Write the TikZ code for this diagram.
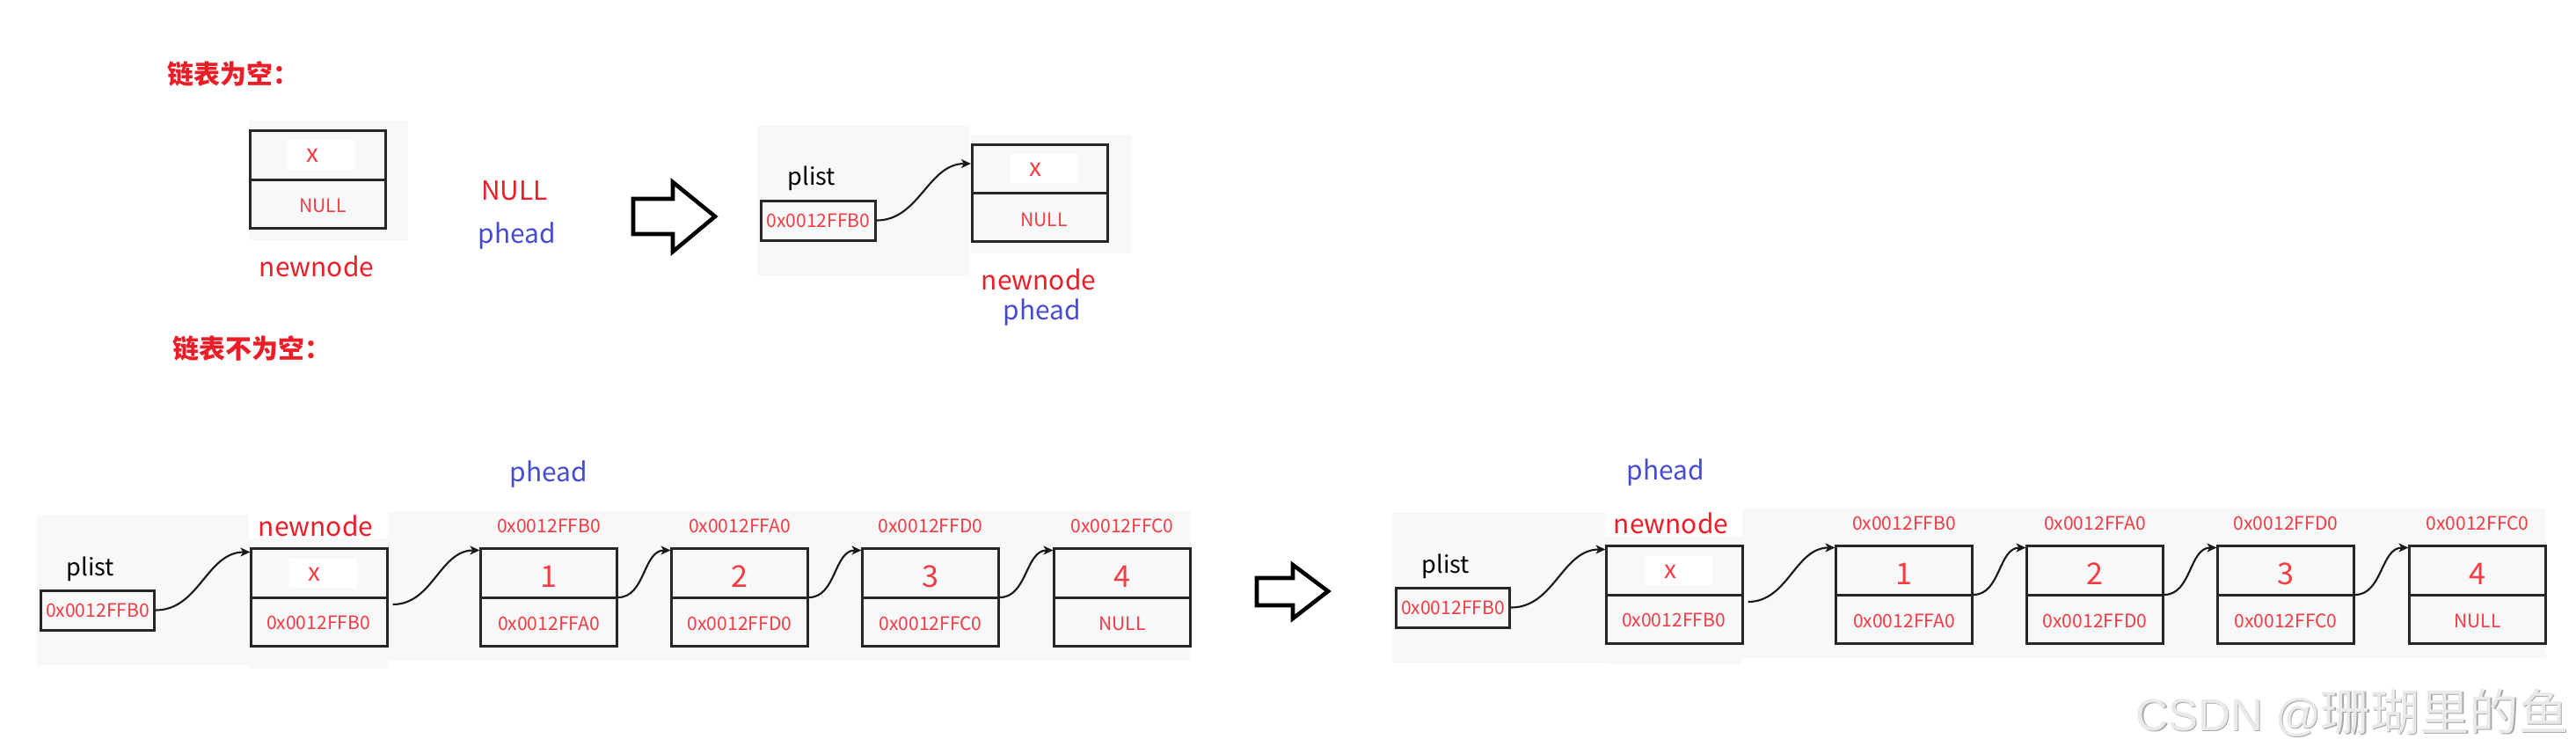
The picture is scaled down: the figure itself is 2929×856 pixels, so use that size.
\documentclass[tikz,border=0pt]{standalone}
\usepackage{fontspec}
\setmainfont{Noto Sans CJK SC}
\newfontfamily\wmlat{Liberation Sans}
\usetikzlibrary{arrows.meta}
\definecolor{lblred}{RGB}{235,30,40}
\definecolor{txtred}{RGB}{245,60,65}
\definecolor{pblue}{RGB}{70,75,210}
\definecolor{panel}{RGB}{247,248,250}
\definecolor{wmfill}{RGB}{234,234,234}
\definecolor{wmshadow}{RGB}{170,170,170}
\begin{document}
\begin{tikzpicture}[x=0.01cm,y=-0.01cm,
  title/.style={font=\fontsize{8.5}{10}\selectfont\bfseries, text=lblred, inner sep=0pt},
  lbl/.style={font=\fontsize{8.5}{10}\selectfont, text=lblred, inner sep=0pt},
  blbl/.style={font=\fontsize{8.5}{10}\selectfont, text=pblue, inner sep=0pt},
  plistlbl/.style={font=\fontsize{7.7}{9}\selectfont, text=black, inner sep=0pt},
  addr/.style={font=\fontsize{6}{7}\selectfont, text=txtred, inner sep=0pt},
  xval/.style={font=\fontsize{8}{9}\selectfont, text=txtred, inner sep=0pt},
  digit/.style={font=\fontsize{9.7}{11}\selectfont, text=txtred, inner sep=0pt},
  cell/.style={draw=black!85, line width=0.85pt, minimum width=1.54cm, minimum height=1.10cm, inner sep=0pt},
  cellline/.style={draw=black!85, line width=0.85pt},
  pbox/.style={draw=black!85, line width=0.85pt, minimum width=1.29cm, minimum height=0.45cm, inner sep=0pt,
    font=\fontsize{6}{7}\selectfont, text=txtred},
  conn/.style={draw=black!90, line width=0.6pt, -{Stealth[length=0.11cm,width=0.1cm,inset=0.03cm]}},
  bigarrow/.style={draw=black, line width=1.3pt, line join=miter, fill=white},
  wm/.style={font=\fontsize{16}{18}\selectfont, inner sep=0pt, anchor=east}
]
\fill[white] (0,0) rectangle (2929,856);
\useasboundingbox (0,0) rectangle (2929,856);

% ---------- background panels ----------
\fill[panel] (283,137) rectangle (464,273);
\fill[panel] (861,143) rectangle (1102,313);
\fill[panel] (1104,153) rectangle (1287,288);
\fill[panel] (42,585) rectangle (283,756);
\fill[panel] (283,612) rectangle (441,760);
\fill[panel] (441,581) rectangle (1354,751);
\fill[panel] (1583,583) rectangle (1825,753);
\fill[panel] (1825,610) rectangle (1981,755);
\fill[panel] (1981,578) rectangle (2895,748);

% ---------- titles ----------
\node[title, anchor=west] (t1) at (190,84) {链表为空：};
\node[title, anchor=west] (t2) at (196,396) {链表不为空：};

% ---------- empty list: before ----------
\node[cell] (T1) at (361.5,204) {};
\draw[cellline] (T1.west) -- (T1.east);
\fill[white] (327,159) rectangle (404,193);
\node[xval] (T1v) at (356,177) {x};
\node[addr] (T1p) at (367,234) {NULL};
\node[lbl] (T1l) at (360,303) {newnode};
\node[lbl] (nullA) at (585,217) {NULL};
\node[blbl] (pheadA) at (588,268) {phead};

\draw[bigarrow] (720,226) -- (765,226) -- (765,207) -- (813,246) -- (765,286) -- (765,266) -- (720,266) -- cycle;

% ---------- empty list: after ----------
\node[plistlbl] (TPl) at (923,203) {plist};
\node[pbox] (TP) at (930.5,250.5) {0x0012FFB0};
\node[cell] (T2) at (1182.5,219.5) {};
\draw[cellline] (T2.west) -- (T2.east);
\fill[white] (1149,175) rectangle (1225,208);
\node[xval] (T2v) at (1177,193) {x};
\node[addr] (T2p) at (1187,250) {NULL};
\node[lbl] (T2l) at (1181,318) {newnode};
\node[blbl] (pheadB) at (1185,355) {phead};
\draw[conn] (TP.east) to[out=0,in=180] ([yshift=-0.23cm]T2.north west);

% ---------- non-empty list: before and after ----------
\foreach \p/\dx/\dy in {L/0/0, R/1541/-3} {
  \begin{scope}[shift={(\dx,\dy)}]
    \node[plistlbl] (\p pll) at (103,647) {plist};
    \node[pbox] (\p pl) at (111,693.5) {0x0012FFB0};
    \node[lbl] (\p nnl) at (359,598) {newnode};
    \node[cell] (\p n0) at (363,679) {};
    \draw[cellline] (\p n0.west) -- (\p n0.east);
    \fill[white] (329,635) rectangle (406,668);
    \node[xval] (\p n0v) at (358,653) {x};
    \node[addr] (\p n0p) at (362,708) {0x0012FFB0};
    \foreach \i/\cx/\val/\adr/\nxt in {1/624/1/0x0012FFB0/0x0012FFA0,
        2/841/2/0x0012FFA0/0x0012FFD0, 3/1058/3/0x0012FFD0/0x0012FFC0,
        4/1276/4/0x0012FFC0/NULL} {
      \node[cell] (\p n\i) at (\cx,679) {};
      \draw[cellline] (\p n\i.west) -- (\p n\i.east);
      \node[digit] (\p n\i v) at (\cx,655) {\val};
      \node[addr] (\p n\i p) at (\cx,709) {\nxt};
      \node[addr] (\p n\i a) at (\cx,598) {\adr};
    }
    \draw[conn] (\p pl.east) to[out=0,in=180] ([yshift=-0.05cm]\p n0.north west);
    \draw[conn] ([xshift=0.05cm,yshift=-0.08cm]\p n0.east) to[out=0,in=180] ([yshift=-0.03cm]\p n1.north west);
    \draw[conn] (\p n1.east) to[out=0,in=180] ([yshift=-0.03cm]\p n2.north west);
    \draw[conn] (\p n2.east) to[out=0,in=180] ([yshift=-0.03cm]\p n3.north west);
    \draw[conn] (\p n3.east) to[out=0,in=180] ([yshift=-0.03cm]\p n4.north west);
  \end{scope}
}
\node[blbl] (pheadL) at (624,539) {phead};
\node[blbl] (pheadR) at (1894,537) {phead};

\draw[bigarrow] (1429,657) -- (1470,657) -- (1470,642) -- (1510,672) -- (1470,703) -- (1470,688) -- (1429,688) -- cycle;

% ---------- watermark ----------
\node[wm, text=wmshadow] (wms) at (2922.5,811.5) {{\wmlat\fontsize{14.5}{16}\selectfont CSDN @}珊瑚里的鱼};
\node[wm, text=wmfill] (wmt) at (2921,810) {{\wmlat\fontsize{14.5}{16}\selectfont CSDN @}珊瑚里的鱼};
\end{tikzpicture}
\end{document}
